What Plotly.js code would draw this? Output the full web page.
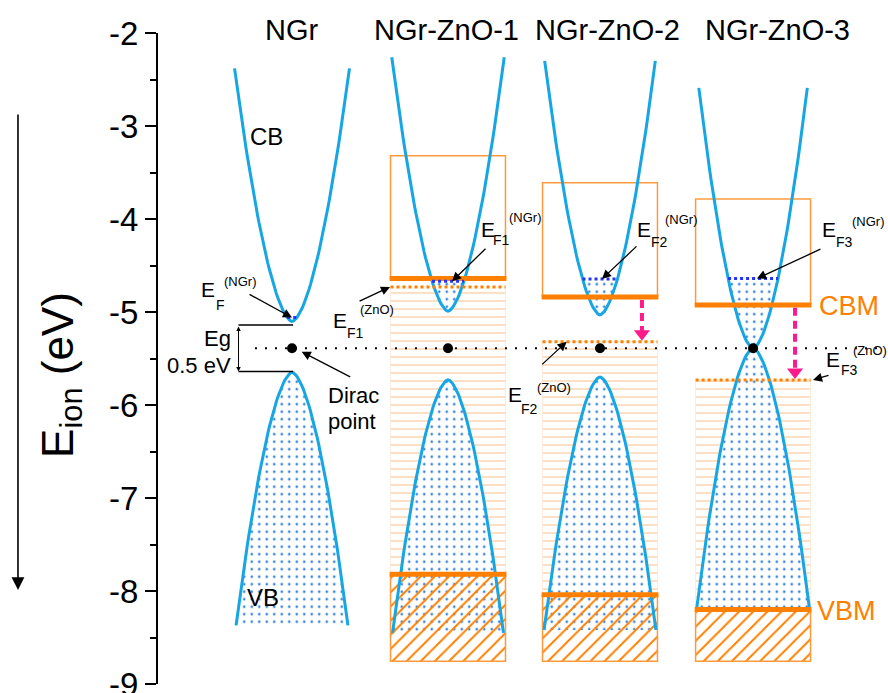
<!DOCTYPE html>
<html><head><meta charset="utf-8">
<script src="https://cdn.plot.ly/plotly-3.0.1.min.js"></script>
<style>html,body{margin:0;padding:0;background:#fff}</style>
</head><body><div id="chart" style="width:888px;height:693px"></div>
<script>
// ---------------- data (energies in eV) ----------------
const samples = ['NGr', 'NGr-ZnO-1', 'NGr-ZnO-2', 'NGr-ZnO-3'];
const cbMin  = [-5.10, -4.99, -5.03, -5.39];   // bottom of NGr conduction cone
const cbTop  = [-2.38, -2.26, -2.30, -2.59];   // upper end of drawn CB branch
const vbMax  = [-5.65, -5.73, -5.70, -5.39];   // top of NGr valence cone
const vbBot  = [-8.37, -8.45, -8.42, -8.20];   // lower end of drawn VB branch
const efNGr  = [-5.06, -4.67, -4.645, -4.64];  // E_F (NGr)
const efZnO  = [null, -4.73, -5.32, -5.73];    // E_F (ZnO)
const znoCBM = [null, -4.64, -4.84, -4.925];
const znoVBM = [null, -7.82, -8.04, -8.20];
const znoTop = [null, -3.32, -3.61, -3.785];
const diracE = -5.39;
const gapEdges = [-5.14, -5.64];               // Eg = 0.5 eV
const yTickVals = [-9, -8, -7, -6, -5, -4, -3, -2];
const yTickText = ['-9', '-8', '-7', '-6', '-5', '-4', '-3', '-2'];

// ---------------- geometry / style ----------------
const G = {
  xc: [0, 1.015, 2.004, 3.0],
  cbHalf: [0.374, 0.366, 0.360, 0.353],
  vbHalf: [0.364, 0.361, 0.364, 0.368],
  boxHalf: 0.374,
  power: 1.7,
  hatchBottom: -8.755,
  xRange: [-0.872, 3.878],
  diracX: [-0.241, 3.839],
  egX: [-0.348, 0.007],
  pinkOff: 0.273
};
const ORANGE = '#ff8000', BOXOR = '#ff9a3c', LORANGE = '#fdd3ad', CYAN = '#16a6e3',
      BLUE = '#2233ff', PINK = '#ff1a8c', DOTC = '#3c86d8';
const FONT = 'Liberation Sans, Arial, Helvetica, sans-serif';

function bandPts(i, isCB, tMax) {
  const xc = G.xc[i], hw = isCB ? G.cbHalf[i] : G.vbHalf[i];
  const e0 = isCB ? cbMin[i] : vbMax[i], e1 = isCB ? cbTop[i] : vbBot[i];
  const n = 81, xs = [], ys = [];
  for (let k = 0; k < n; k++) {
    const t = (-1 + 2 * k / (n - 1)) * tMax;
    xs.push(xc + t * hw);
    ys.push(e0 + (e1 - e0) * Math.pow(Math.abs(t), G.power));
  }
  return { x: xs, y: ys };
}
function tAt(i, isCB, E) {
  const e0 = isCB ? cbMin[i] : vbMax[i], e1 = isCB ? cbTop[i] : vbBot[i];
  return Math.pow(Math.max(0, (E - e0) / (e1 - e0)), 1 / G.power);
}
function rect(x0, x1, y0, y1) { return { x: [x0, x1, x1, x0, x0], y: [y0, y0, y1, y1, y0] }; }
function base(extra) { return Object.assign({ type: 'scatter', mode: 'lines', hoverinfo: 'skip', showlegend: false }, extra); }

const traces = [];
const bh = G.boxHalf;
const dotPat = { shape: '.', fgcolor: DOTC, bgcolor: 'white', size: 7.5, solidity: 0.1 };
// stripes (ZnO band gap region)
for (let i = 1; i < 4; i++) {
  const r = rect(G.xc[i] - bh, G.xc[i] + bh, efZnO[i], znoVBM[i]);
  traces.push(base({ x: r.x, y: r.y, fill: 'toself', fillcolor: 'white', line: { width: 0.8, color: '#fde6d2' },
    fillpattern: { shape: '-', fgcolor: LORANGE, bgcolor: 'white', size: 8, solidity: 0.18 } }));
}
// VB fills (occupied states)
for (let i = 0; i < 4; i++) {
  const p = bandPts(i, false, 1);
  traces.push(base({ x: p.x, y: p.y, fill: 'toself', fillcolor: 'white', line: { width: 0 }, fillpattern: dotPat }));
}
// CB fills up to E_F(NGr)
for (let i = 0; i < 4; i++) {
  const p = bandPts(i, true, tAt(i, true, efNGr[i]));
  traces.push(base({ x: p.x, y: p.y, fill: 'toself', fillcolor: 'white', line: { width: 0 }, fillpattern: dotPat }));
}
// hatched ZnO valence band
for (let i = 1; i < 4; i++) {
  const r = rect(G.xc[i] - bh, G.xc[i] + bh, znoVBM[i], G.hatchBottom);
  traces.push(base({ x: r.x, y: r.y, fill: 'toself', fillcolor: 'rgba(0,0,0,0)', line: { width: 1.5, color: BOXOR },
    fillpattern: { shape: '/', fgcolor: ORANGE, bgcolor: 'rgba(0,0,0,0)', size: 10, solidity: 0.2 } }));
}
// ZnO conduction band boxes
for (let i = 1; i < 4; i++) {
  const r = rect(G.xc[i] - bh, G.xc[i] + bh, znoCBM[i], znoTop[i]);
  traces.push(base({ x: r.x, y: r.y, line: { width: 1.5, color: BOXOR } }));
}
// Dirac level dotted line
traces.push(base({ x: G.diracX, y: [diracE, diracE], line: { width: 2, color: '#000', dash: '2px,8px' } }));
// band curves
for (let i = 0; i < 4; i++) {
  const c = bandPts(i, true, 1), v = bandPts(i, false, 1);
  traces.push(base({ x: c.x, y: c.y, line: { width: 3, color: CYAN } }));
  traces.push(base({ x: v.x, y: v.y, line: { width: 3, color: CYAN } }));
}
// CBM / VBM
for (let i = 1; i < 4; i++) {
  const x = [G.xc[i] - bh - 0.006, G.xc[i] + bh + 0.006];
  traces.push(base({ x, y: [znoCBM[i], znoCBM[i]], line: { width: 5, color: ORANGE } }));
  traces.push(base({ x, y: [znoVBM[i], znoVBM[i]], line: { width: 5, color: ORANGE } }));
  traces.push(base({ x: [G.xc[i] - bh, G.xc[i] + bh], y: [efZnO[i], efZnO[i]], line: { width: 3, color: ORANGE, dash: 'dot' } }));
}
// E_F (NGr) dotted blue
for (let i = 0; i < 4; i++) {
  const t = tAt(i, true, efNGr[i]), hw = G.cbHalf[i];
  traces.push(base({ x: [G.xc[i] - t * hw, G.xc[i] + t * hw], y: [efNGr[i], efNGr[i]], line: { width: 3, color: BLUE, dash: 'dot' } }));
}
// Eg lines
gapEdges.forEach(e => traces.push(base({ x: G.egX, y: [e, e], line: { width: 1.5, color: '#000' } })));
// Dirac points
traces.push(base({ mode: 'markers', x: G.xc, y: G.xc.map(() => diracE), marker: { size: 10, color: '#000' } }));
// pink arrows (CBM -> E_F(ZnO))
for (let i = 2; i < 4; i++) {
  const x = G.xc[i] + G.pinkOff;
  traces.push(base({ x: [x, x], y: [znoCBM[i] - 0.03, efZnO[i] + 0.1], line: { width: 4, color: PINK, dash: '8px,5px' } }));
  traces.push(base({ mode: 'markers', x: [x], y: [efZnO[i] + 0.085], marker: { symbol: 'triangle-down', size: 14, color: PINK } }));
}

// ---------------- annotations ----------------
function T(x, y, text, size, color, yref) {
  return { x, y, xref: 'x', yref: yref || 'y', text, showarrow: false, xanchor: 'center', yanchor: 'middle',
           font: { family: FONT, size, color: color || '#000' } };
}
function A(x, y, ax, ay) {
  return { x, y, xref: 'x', yref: 'y', text: '', showarrow: true, ax, ay, arrowhead: 2, arrowsize: 1.4,
           arrowwidth: 1.3, arrowcolor: '#000', standoff: 0 };
}
const ann = [];
const titleX = [0, 1.002, 2.056, 3.162];
samples.forEach((s, i) => ann.push(T(titleX[i], 1.0046, s, 29, '#000', 'paper')));
ann.push(T(-0.163, -3.108, 'CB', 24), T(-0.189, -8.065, 'VB', 24));
// NGr E_F
ann.push(T(-0.545, -4.755, 'E', 21), T(-0.468, -4.925, 'F', 14), T(-0.332, -4.667, '(NGr)', 13), A(0, efNGr[0], -44, -24));
// Eg
ann.push(T(-0.488, -5.29, 'Eg', 22), T(-0.608, -5.575, '0.5 eV', 22));
ann.push({ x: G.egX[0], y: gapEdges[1], xref: 'x', yref: 'y', axref: 'x', ayref: 'y', ax: G.egX[0], ay: gapEdges[0],
  text: '', showarrow: true, arrowside: 'end+start', arrowhead: 2, arrowsize: 0.9, arrowwidth: 1, arrowcolor: '#000', standoff: 0, startstandoff: 0 });
// Dirac point
ann.push(T(0.403, -5.900, 'Dirac', 22), T(0.390, -6.180, 'point', 22), A(0.063, -5.427, 50, 26));
// E_F1 (ZnO)
ann.push(T(0.312, -5.086, 'E', 21), T(0.410, -5.226, 'F1', 14), T(0.556, -4.978, '(ZnO)', 13), A(0.638, efZnO[1], -32, 15));
// E_F1 (NGr)
ann.push(T(1.278, -4.118, 'E', 21), T(1.366, -4.226, 'F1', 14), T(1.522, -3.989, '(NGr)', 13), A(1.041, efNGr[1], 35, -34));
// E_F2 (NGr)
ann.push(T(2.290, -4.118, 'E', 21), T(2.388, -4.247, 'F2', 14), T(2.537, -4.0, '(NGr)', 13), A(2.017, efNGr[2], 36, -34));
// E_F2 (ZnO)
ann.push(T(1.451, -5.892, 'E', 21), T(1.548, -6.038, 'F2', 14), T(1.705, -5.817, '(ZnO)', 13), A(1.787, efZnO[2], -26, 24));
// E_F3 (NGr)
ann.push(T(3.491, -4.113, 'E', 21), T(3.594, -4.247, 'F3', 14), T(3.754, -4.032, '(NGr)', 13), A(3.025, efNGr[3], 65, -30));
// CBM / VBM
ann.push(T(3.627, -4.935, 'CBM', 27, ORANGE), T(3.608, -8.215, 'VBM', 27, ORANGE));
// E_F3 (ZnO)
ann.push(T(3.523, -5.516, 'E', 21), T(3.627, -5.624, 'F3', 14), T(3.761, -5.409, '(ZnO)', 13), A(3.390, efZnO[3], 17, -5));
// big downward arrow beside axis
ann.push({ x: -0.1918, y: -7.989, xref: 'paper', yref: 'y', ax: 0, ay: -477, text: '', showarrow: true,
  arrowhead: 2, arrowsize: 1.6, arrowwidth: 1.6, arrowcolor: '#000', standoff: 0 });
// y-axis title
ann.push({ x: -0.1329, y: 0.4747, xref: 'paper', yref: 'paper', text: 'E<sub>ion</sub> (eV)', textangle: -90,
  showarrow: false, xanchor: 'center', yanchor: 'middle', font: { family: FONT, size: 44, color: '#000' } });

const layout = {
  width: 888, height: 693,
  margin: { l: 158, r: 0, t: 33, b: 9 },
  paper_bgcolor: '#fff', plot_bgcolor: '#fff',
  font: { family: FONT, color: '#000' },
  showlegend: false,
  xaxis: { range: G.xRange, visible: false, fixedrange: true },
  yaxis: {
    range: [-9, -2], tickmode: 'array', tickvals: yTickVals, ticktext: yTickText,
    ticklabeloverflow: 'allow',
    showgrid: false, zeroline: false, showline: true, linewidth: 2, linecolor: '#000',
    ticks: 'outside', ticklen: 11, tickwidth: 2, tickcolor: '#000',
    tickfont: { size: 33, family: FONT, color: '#000' },
    minor: { dtick: 0.5, tick0: 0, ticks: 'outside', ticklen: 6, tickwidth: 2, tickcolor: '#000' },
    fixedrange: true
  },
  annotations: ann
};
Plotly.newPlot('chart', traces, layout, { displayModeBar: false, staticPlot: true });
</script></body></html>
